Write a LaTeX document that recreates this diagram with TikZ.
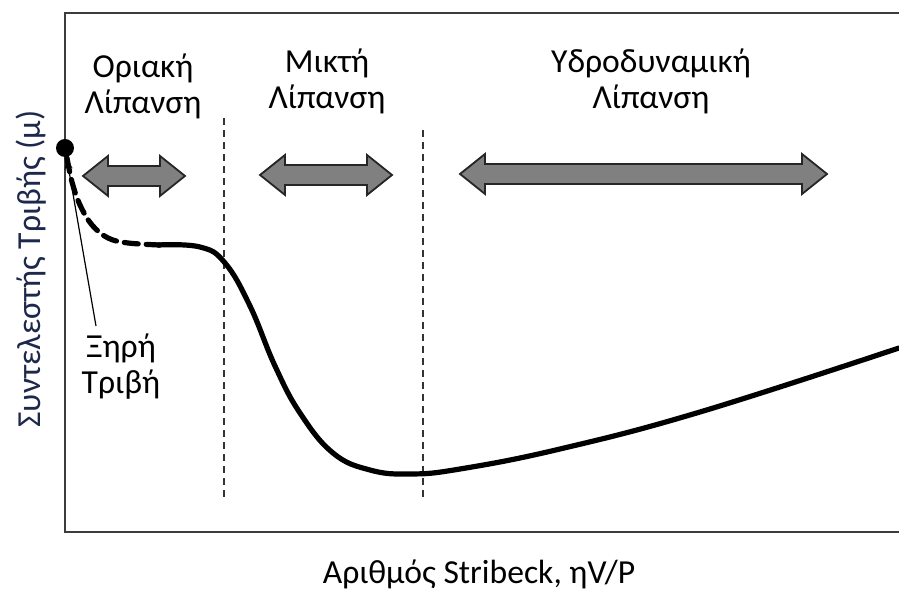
\documentclass[tikz,border=0pt]{standalone}
\usepackage{fontspec}
\setmainfont{Carlito}
\usetikzlibrary{arrows.meta}

\definecolor{framegray}{RGB}{60,60,60}
\definecolor{arrowgray}{RGB}{128,128,128}
\definecolor{axisblue}{RGB}{30,40,75}

% double headed arrow marking a lubrication regime: left tip, right tip, centre y
\newcommand{\regimearrow}[3]{%
  \draw[regimebox] (#1,#3) -- (#1+25,#3-20) -- (#1+25,#3-10) -- (#2-25,#3-10)
    -- (#2-25,#3-20) -- (#2,#3) -- (#2-25,#3+20) -- (#2-25,#3+10)
    -- (#1+25,#3+10) -- (#1+25,#3+20) -- cycle;}

\begin{document}
\begin{tikzpicture}[x=0.5pt, y=-0.5pt,
    lbl/.style={font=\fontsize{16.8}{18}\selectfont, align=center, inner sep=1pt},
    regimebox/.style={fill=arrowgray, draw=black!85, line width=0.9pt, line join=miter},
    border/.style={draw=framegray, line width=1.3pt},
    divider/.style={draw=black!80, line width=0.8pt, dash pattern=on 3.5pt off 2.5pt},
    stribeck/.style={line width=2.6pt, line cap=round}]
    \useasboundingbox (0,0) rectangle (899,592);

    % frame, open on the right
    \draw[border] (899,13) -- (65,13) -- (65,532) -- (899,532);

    % regime boundaries
    \draw[divider] (224,118) -- (224,497);
    \draw[divider] (423,130) -- (423,500);

    % regime labels
    \node[lbl] (bound) at (143,86) {Οριακή\\Λίπανση};
    \node[lbl] (mixed) at (327,81) {Μικτή\\Λίπανση};
    \node[lbl] (hydro) at (651,81) {Υδροδυναμική\\Λίπανση};

    % regime arrows
    \regimearrow{83}{185}{176}
    \regimearrow{260}{392}{175}
    \regimearrow{460}{827}{174}

    % Stribeck curve
    \draw[stribeck, dash pattern=on 7pt off 4pt]
        plot[smooth, tension=0.6] coordinates {(67,158) (72,182) (80,205) (92,225) (108,238) (128,243) (160,245)};
    \draw[stribeck]
        plot[smooth, tension=0.7] coordinates {(158,245) (200,247) (225,263) (250,306)
            (275,366) (300,413) (333,453) (370,470) (410,474) (460,469) (560,449) (700,412) (899,348)};

    % dry friction point
    \node[circle, fill=black, inner sep=0pt, minimum size=9pt] (dry) at (65,148) {};
    \node[lbl] (drylbl) at (121,367) {Ξηρή\\Τριβή};
    \coordinate (dryend) at (96,326);
    \draw[line width=0.6pt, -{Stealth[length=6pt, width=4pt]}] (dryend) -- (dry);

    % axis titles
    \node[lbl, rotate=90, text=axisblue] (ytitle) at (31,269) {Συντελεστής Τριβής (μ)};
    \node[lbl] (xtitle) at (479,574) {Αριθμός Stribeck, ηV/P};
\end{tikzpicture}
\end{document}
